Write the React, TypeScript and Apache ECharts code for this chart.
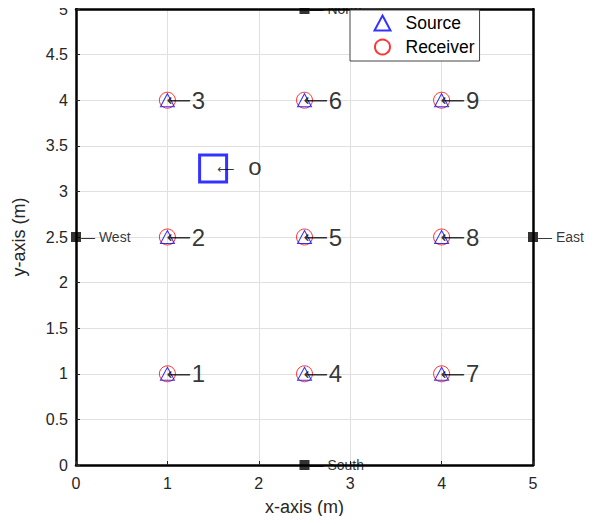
import React, { useEffect, useRef } from "react";
import * as echarts from "echarts";

const sourcePoints: [number, number][] = [
  [1, 1], [1, 2.5], [1, 4],
  [2.5, 1], [2.5, 2.5], [2.5, 4],
  [4, 1], [4, 2.5], [4, 4],
];
const receiverPoints: [number, number][] = [
  [1, 1], [1, 2.5], [1, 4],
  [2.5, 1], [2.5, 2.5], [2.5, 4],
  [4, 1], [4, 2.5], [4, 4],
];
const pointLabels = ["1", "2", "3", "4", "5", "6", "7", "8", "9"];
const objectPoint: [number, number] = [1.5, 3.25];
const objectLabel = "o";
const boundaryPoints: [number, number][] = [[0, 2.5], [5, 2.5], [2.5, 5], [2.5, 0]];
const boundaryLabels = ["West", "East", "North", "South"];

const FONT = "Liberation Sans, Arial, Helvetica, sans-serif";
const ARROW_FONT = "DejaVu Sans, sans-serif";

export default function App() {
  const ref = useRef<HTMLDivElement>(null);
  useEffect(() => {
    if (!ref.current) return;
    const chart = echarts.init(ref.current, null, { renderer: "svg" });
    const frameLine = { show: true, lineStyle: { color: "#000", width: 2.5 } };
    const tick = { show: true, inside: true, length: 4, lineStyle: { color: "#262626" } };
    chart.setOption({
      animation: false,
      textStyle: { fontFamily: FONT },
      grid: { left: 76, right: 62, top: 9, bottom: 59 },
      legend: {
        left: 350, top: 10,
        orient: "vertical",
        data: ["Source", "Receiver"],
        backgroundColor: "#fff",
        borderColor: "#444",
        borderWidth: 1,
        borderRadius: 0,
        padding: [3, 5, 4, 22],
        itemGap: 4,
        itemWidth: 16,
        itemHeight: 15,
        textStyle: { fontSize: 17.5, lineHeight: 16, color: "#000", fontFamily: FONT, padding: [0, 0, 0, 10] },
        z: 20,
      },
      xAxis: [
        {
          type: "value", min: 0, max: 5, interval: 1, position: "bottom",
          name: "x-axis (m)", nameLocation: "middle", nameGap: 33,
          nameTextStyle: { fontSize: 18, color: "#262626", fontFamily: FONT },
          axisLine: { ...frameLine, onZero: false },
          axisTick: tick,
          axisLabel: { fontSize: 16, color: "#262626", margin: 10, fontFamily: FONT },
          splitLine: { show: true, lineStyle: { color: "#e0e0e0", width: 1 } },
        },
        {
          type: "value", min: 0, max: 5, interval: 1, position: "top",
          axisLine: { ...frameLine, onZero: false },
          axisTick: { show: false },
          axisLabel: { show: false },
          splitLine: { show: false },
        },
      ],
      yAxis: [
        {
          type: "value", min: 0, max: 5, interval: 0.5, position: "left",
          name: "y-axis (m)", nameLocation: "middle", nameGap: 48,
          nameTextStyle: { fontSize: 18, color: "#262626", fontFamily: FONT },
          axisLine: { ...frameLine, onZero: false },
          axisTick: tick,
          axisLabel: { fontSize: 16, color: "#262626", margin: 8, fontFamily: FONT },
          splitLine: { show: true, lineStyle: { color: "#e0e0e0", width: 1 } },
        },
        {
          type: "value", min: 0, max: 5, interval: 0.5, position: "right",
          axisLine: { ...frameLine, onZero: false },
          axisTick: { show: false },
          axisLabel: { show: false },
          splitLine: { show: false },
        },
      ],
      series: [
        {
          name: "Receiver",
          type: "scatter",
          symbol: "circle",
          symbolSize: 16,
          data: receiverPoints,
          itemStyle: { color: "none", borderColor: "#ff0000", borderWidth: 1 },
          z: 3,
        },
        {
          name: "Source",
          type: "scatter",
          symbol: "triangle",
          symbolSize: [14, 13],
          data: sourcePoints,
          itemStyle: { color: "none", borderColor: "#0000ff", borderWidth: 1 },
          z: 4,
        },
        {
          name: "labels",
          type: "scatter",
          symbol: "circle",
          symbolSize: 2,
          data: sourcePoints.map((p, i) => [p[0], p[1], pointLabels[i]]),
          itemStyle: { color: "rgba(0,0,0,0)" },
          label: {
            show: true,
            position: "right",
            distance: -2,
            formatter: (p: any) => `{a|⟵}{b|${p.data[2]}}`,
            rich: {
              a: { fontSize: 17, fontFamily: ARROW_FONT, color: "#000" },
              b: { fontSize: 24, fontFamily: FONT, color: "#000", padding: [0, 0, 0, 1] },
            },
          },
          labelLayout: { hideOverlap: false },
          z: 5,
          silent: true,
        },
        {
          name: "object",
          type: "scatter",
          symbol: "rect",
          symbolSize: 27,
          data: [[objectPoint[0], objectPoint[1], objectLabel]],
          itemStyle: { color: "none", borderColor: "#0000ff", borderWidth: 3 },
          label: {
            show: true,
            position: "right",
            distance: -12,
            formatter: (p: any) => `{a|⟵}{b|${p.data[2]}}`,
            rich: {
              a: { fontSize: 12, fontFamily: ARROW_FONT, color: "#000" },
              b: { fontSize: 24, fontFamily: FONT, color: "#000", padding: [0, 0, 4, 14] },
            },
          },
          z: 5,
        },
        {
          name: "boundary",
          type: "scatter",
          symbol: "rect",
          symbolSize: 10,
          data: boundaryPoints.map((p, i) => [p[0], p[1], boundaryLabels[i]]),
          itemStyle: { color: "#000" },
          label: {
            show: true,
            position: "right",
            distance: 0,
            formatter: (p: any) => `— ${p.data[2]}`,
            fontSize: 14,
            color: "#000",
            fontFamily: FONT,
          },
          labelLayout: { hideOverlap: false },
          z: 6,
        },
      ],
    });
    return () => chart.dispose();
  }, []);
  return <div ref={ref} style={{ width: 595, height: 524, margin: -8 }} />;
}
